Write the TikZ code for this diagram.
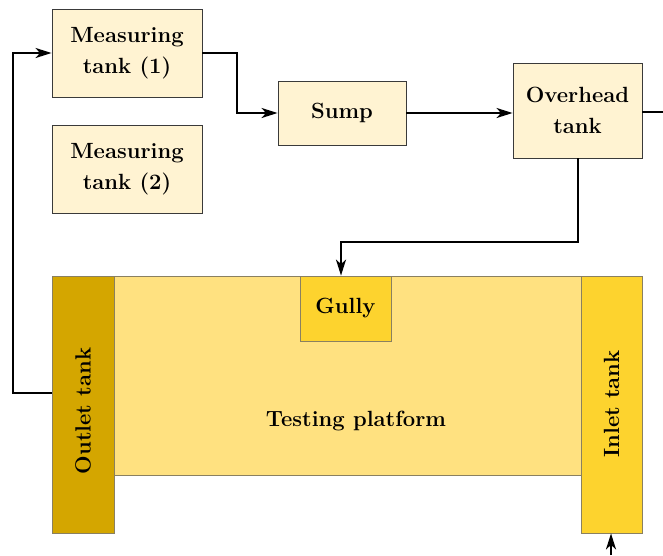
\documentclass[tikz,border=0pt]{standalone}
\usepackage{fontspec}
\setmainfont{Latin Modern Roman}
\usetikzlibrary{arrows.meta,calc}
\definecolor{cream}{HTML}{FFF3D2}
\definecolor{platfill}{HTML}{FFE180}
\definecolor{outfill}{HTML}{D4A600}
\definecolor{infill}{HTML}{FDD32E}
\definecolor{boxline}{HTML}{3A3A3A}
\definecolor{platline}{HTML}{8A8060}
\begin{document}
\begin{tikzpicture}[x=1pt,y=-1pt,
  every node/.style={font=\fontsize{22}{31}\selectfont\bfseries, align=center, inner sep=0pt},
  tankbox/.style={draw=boxline, line width=0.9pt, fill=cream, rectangle},
  platbox/.style={draw=platline, line width=0.8pt, rectangle},
  arr/.style={line width=2pt, -{Stealth[length=16pt,width=10pt,inset=4.5pt]}},
  pipe/.style={line width=2pt}]
\useasboundingbox (0,0) rectangle (663,555);
\node[tankbox, minimum width=150pt, minimum height=88pt] (m1) at (127,53) {Measuring\\tank (1)};
\node[tankbox, minimum width=150pt, minimum height=88pt] (m2) at (127,169) {Measuring\\tank (2)};
\node[tankbox, minimum width=128pt, minimum height=64pt] (sump) at (342,113) {Sump};
\node[tankbox, minimum width=129pt, minimum height=95pt] (over) at (577.5,110.5) {Overhead\\tank};
\node[platbox, fill=platfill, minimum width=467pt, minimum height=199pt] (plat) at (347.5,375.5) {};
\node (platlabel) at (356,421) {Testing platform};
\node[platbox, fill=outfill, minimum width=62pt, minimum height=257pt] (outlet) at (83,404.5) {};
\node[rotate=90] (outlabel) at (83,411) {Outlet tank};
\node[platbox, fill=infill, minimum width=61pt, minimum height=257pt] (inlet) at (611.5,404.5) {};
\node[rotate=90] (inlabel) at (611.5,404) {Inlet tank};
\node[platbox, fill=infill, minimum width=91pt, minimum height=65pt] (gully) at (345.5,308.5) {Gully};
\coordinate (exit) at (663,112);
\coordinate (g1) at (341,242);
\coordinate (bot) at (611,555);
\draw[arr] (m1.east) -- ++(35,0) |- (sump.west);
\draw[arr] (sump.east) -- (over.west |- sump.east);
\draw[pipe] (over.east |- exit) -- (exit);
\draw[arr] (over.south) |- (g1) -- (g1 |- gully.north);
\draw[arr] ([yshift=11.5pt]outlet.west) -- ++(-39,0) |- (m1.west);
\draw[arr] (bot) -- (bot |- inlet.south);
\end{tikzpicture}
\end{document}
